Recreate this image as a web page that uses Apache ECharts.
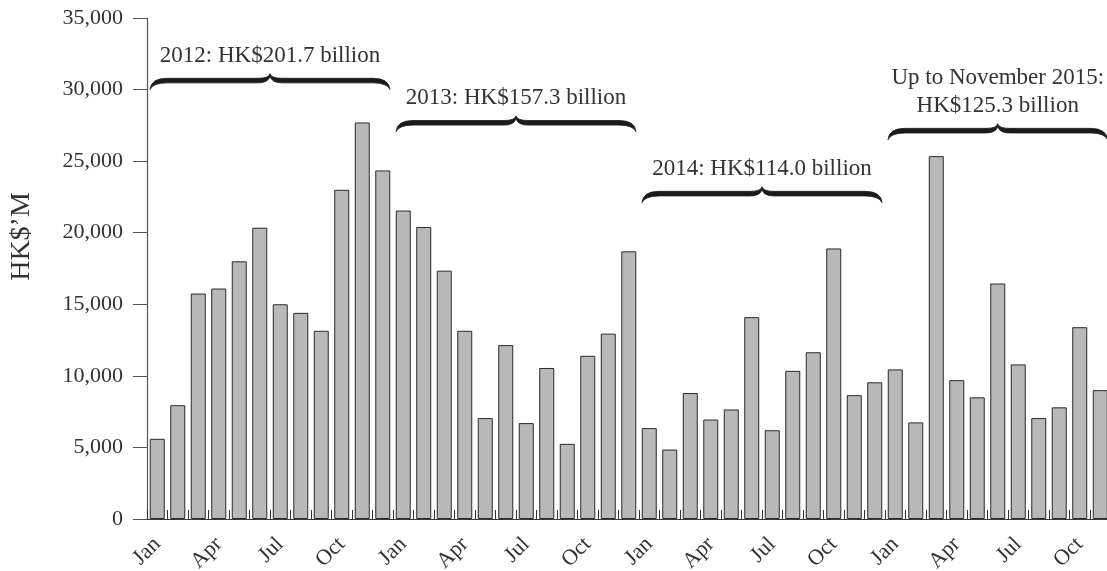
<!DOCTYPE html>
<html>
<head>
<meta charset="utf-8">
<script src="https://cdn.jsdelivr.net/npm/echarts@6/dist/echarts.min.js"></script>
<style>
html,body{margin:0;padding:0;background:#fff;}
#chart{width:1107px;height:571px;}
</style>
</head>
<body>
<div id="chart"></div>
<script>
var monthNames = ['Jan','Feb','Mar','Apr','May','Jun','Jul','Aug','Sep','Oct','Nov','Dec'];
var years = [2012, 2013, 2014, 2015];
var values2012 = [5600, 7950, 15750, 16100, 18000, 20350, 15000, 14400, 13150, 23000, 27700, 24350];
var values2013 = [21550, 20400, 17350, 13150, 7050, 12150, 6700, 10550, 5250, 11400, 12950, 18700];
var values2014 = [6350, 4850, 8800, 6950, 7650, 14100, 6200, 10350, 11650, 18900, 8650, 9550];
var values2015 = [10450, 6750, 25350, 9700, 8500, 16450, 10800, 7050, 7800, 13400, 9000];
var yTicks = [0, 5000, 10000, 15000, 20000, 25000, 30000, 35000];
var yAxisTitle = 'HK$\u2019M';

var braceLabels = ['2012: HK$201.7 billion', '2013: HK$157.3 billion', '2014: HK$114.0 billion', 'Up to November 2015:\nHK$125.3 billion'];
var braceStart = [0, 12, 24, 36];
var braceEnd = [11, 23, 35, 46];
var braceLevel = [30000, 27050, 22100, 26500];

var values = values2012.concat(values2013, values2014, values2015);
var categories = values.map(function (v, i) { return monthNames[i % 12] + ' ' + years[Math.floor(i / 12)]; });

var braceData = braceLabels.map(function (t, i) { return [braceStart[i], braceEnd[i], braceLevel[i], t]; });

var FONT = '"Liberation Serif", "Times New Roman", serif';
var TXT = '#333333';
var INK = '#1c1a1a';

var chart = echarts.init(document.getElementById('chart'), null, {renderer: 'canvas'});
chart.setOption({
  backgroundColor: '#ffffff',
  animation: false,
  grid: {left: 147, width: 963.5, top: 18, bottom: 52, containLabel: false, outerBoundsMode: 'none'},
  xAxis: {
    type: 'category',
    data: categories,
    boundaryGap: true,
    axisLine: {show: true, lineStyle: {color: '#3a3a3a', width: 1.2}},
    axisTick: {show: true, inside: true, length: 9, interval: 0, lineStyle: {color: '#333'}},
    axisLabel: {
      interval: 2,
      rotate: 45,
      margin: 22,
      color: TXT,
      fontFamily: FONT,
      fontSize: 22,
      formatter: function (v) { return v.split(' ')[0]; }
    }
  },
  yAxis: {
    type: 'value',
    min: yTicks[0],
    max: yTicks[yTicks.length - 1],
    interval: yTicks[1] - yTicks[0],
    name: yAxisTitle,
    nameLocation: 'middle',
    nameGap: 111,
    nameRotate: 90,
    nameTextStyle: {color: TXT, fontFamily: FONT, fontSize: 28, padding: [0, 0, 0, 64]},
    axisLine: {show: true, lineStyle: {color: '#555', width: 1.2}},
    axisTick: {show: true, inside: false, length: 14, lineStyle: {color: '#555'}},
    splitLine: {show: false},
    axisLabel: {
      color: TXT,
      fontFamily: FONT,
      fontSize: 22,
      margin: 24,
      formatter: function (v) { return v.toLocaleString('en-US'); }
    }
  },
  series: [
    {
      type: 'bar',
      data: values,
      barWidth: 15,
      itemStyle: {color: '#b9b9b9', borderColor: '#2a2a2a', borderWidth: 1}
    },
    {
      type: 'custom',
      data: braceData,
      clip: false,
      z: 5,
      encode: {x: 0, y: 2},
      renderItem: function (params, api) {
        var bw = api.size([1, 0])[0];
        var pStart = api.coord([api.value(0), api.value(2)]);
        var pEnd = api.coord([api.value(1), api.value(2)]);
        var x0 = pStart[0] - bw / 2 + 3;
        var x1 = pEnd[0] + bw / 2 - 3;
        var yt = pStart[1];
        var xm = (x0 + x1) / 2;
        var L = yt - 9, P = yt - 16, t = 4.6;
        var Lu = L - t / 2, Ll = L + t / 2;
        var rt = 17, rm = 12;
        var d =
          'M' + x0 + ' ' + yt +
          ' Q' + (x0 + 1) + ' ' + Lu + ' ' + (x0 + rt) + ' ' + Lu +
          ' L' + (xm - rm) + ' ' + Lu +
          ' Q' + (xm - 1) + ' ' + Lu + ' ' + xm + ' ' + P +
          ' Q' + (xm + 1) + ' ' + Lu + ' ' + (xm + rm) + ' ' + Lu +
          ' L' + (x1 - rt) + ' ' + Lu +
          ' Q' + (x1 - 1) + ' ' + Lu + ' ' + x1 + ' ' + yt +
          ' Q' + (x1 - 3) + ' ' + Ll + ' ' + (x1 - rt) + ' ' + Ll +
          ' L' + (xm + rm) + ' ' + Ll +
          ' Q' + (xm + 2) + ' ' + Ll + ' ' + xm + ' ' + (P + 3) +
          ' Q' + (xm - 2) + ' ' + Ll + ' ' + (xm - rm) + ' ' + Ll +
          ' L' + (x0 + rt) + ' ' + Ll +
          ' Q' + (x0 + 3) + ' ' + Ll + ' ' + x0 + ' ' + yt + ' Z';
        var label = braceData[params.dataIndex][3];
        return {
          type: 'group',
          children: [
            {
              type: 'path',
              shape: {pathData: d},
              style: {fill: INK, stroke: INK, lineWidth: 0.8, lineJoin: 'round'}
            },
            {
              type: 'text',
              style: {
                text: label,
                x: xm,
                y: P - 4,
                align: 'center',
                verticalAlign: 'bottom',
                fill: TXT,
                font: '23px ' + FONT,
                lineHeight: 28
              }
            }
          ]
        };
      }
    }
  ]
});
</script>
</body>
</html>
